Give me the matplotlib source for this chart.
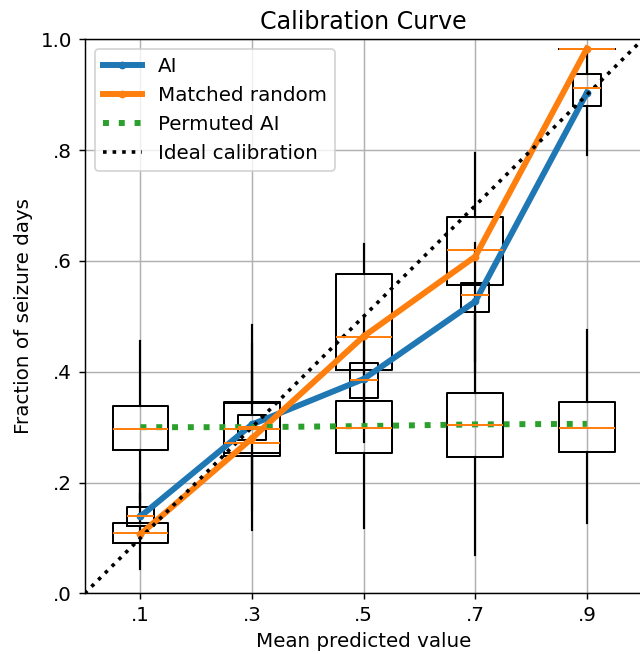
import matplotlib
matplotlib.use("Agg")
import matplotlib.pyplot as plt

plt.rcParams["font.size"] = 11

# bin centres (mean predicted value)
bins = [0.1, 0.3, 0.5, 0.7, 0.9]

# calibration curves (fraction of seizure days)
ai_curve = [0.139, 0.305, 0.387, 0.527, 0.9035]
rand_curve = [0.107, 0.280, 0.464, 0.608, 0.9835]
perm_curve = [0.300, 0.300, 0.302, 0.305, 0.306]

# box statistics per bin: whisker low, q1, median, q3, whisker high
ai_lo = [0.090, 0.200, 0.273, 0.400, 0.792]
ai_q1 = [0.121, 0.276, 0.353, 0.508, 0.879]
ai_med = [0.140, 0.300, 0.386, 0.538, 0.9125]
ai_q3 = [0.1555, 0.322, 0.415, 0.5595, 0.937]
ai_hi = [0.200, 0.400, 0.500, 0.633, 0.980]

rand_lo = [0.0435, 0.150, 0.300, 0.420, 0.9835]
rand_q1 = [0.0917, 0.248, 0.403, 0.5566, 0.9835]
rand_med = [0.1097, 0.272, 0.462, 0.620, 0.9835]
rand_q3 = [0.1278, 0.343, 0.577, 0.679, 0.9835]
rand_hi = [0.180, 0.450, 0.631, 0.795, 0.9835]

perm_lo = [0.170, 0.1145, 0.1187, 0.069, 0.1266]
perm_q1 = [0.259, 0.253, 0.254, 0.247, 0.256]
perm_med = [0.297, 0.297, 0.298, 0.304, 0.298]
perm_q3 = [0.3386, 0.3446, 0.3464, 0.3615, 0.3446]
perm_hi = [0.455, 0.4837, 0.470, 0.500, 0.476]


def stats(lo, q1, med, q3, hi):
    return [dict(whislo=a, q1=b, med=c, q3=d, whishi=e, fliers=[])
            for a, b, c, d, e in zip(lo, q1, med, q3, hi)]


fig = plt.figure(figsize=(640/130, 654/130), dpi=130)
ax = fig.add_axes([0.1323, 0.0927, 0.8719, 0.8471])

ax.grid(True)

box_kw = dict(showcaps=False, showfliers=False, manage_ticks=False,
              boxprops=dict(linewidth=1.1), whiskerprops=dict(linewidth=1.2),
              medianprops=dict(color="C1", linewidth=1.1))
ax.bxp(stats(perm_lo, perm_q1, perm_med, perm_q3, perm_hi), positions=bins, widths=0.1, **box_kw)
ax.bxp(stats(rand_lo, rand_q1, rand_med, rand_q3, rand_hi), positions=bins, widths=0.1, **box_kw)
ax.bxp(stats(ai_lo, ai_q1, ai_med, ai_q3, ai_hi), positions=bins, widths=0.05, **box_kw)

ax.plot(bins, ai_curve, "-o", color="C0", lw=3.3, markersize=3.3, label="AI")
ax.plot(bins, rand_curve, "-o", color="C1", lw=3.3, markersize=3.3, label="Matched random")
ax.plot(bins, perm_curve, ":", color="C2", lw=3.3, label="Permuted AI")
ax.plot([0, 1], [0, 1], "k:", lw=2, label="Ideal calibration")

ax.set_xlim(0, 1)
ax.set_ylim(0, 1)
ax.set_xticks(bins)
ax.set_xticklabels([".1", ".3", ".5", ".7", ".9"])
ax.set_yticks([0, 0.2, 0.4, 0.6, 0.8, 1.0])
ax.set_yticklabels([".0", ".2", ".4", ".6", ".8", "1.0"])

ax.set_xlabel("Mean predicted value")
ax.set_ylabel("Fraction of seizure days")
ax.set_title("Calibration Curve")
ax.legend(loc="upper left")

fig.savefig("out.png", dpi=130)
